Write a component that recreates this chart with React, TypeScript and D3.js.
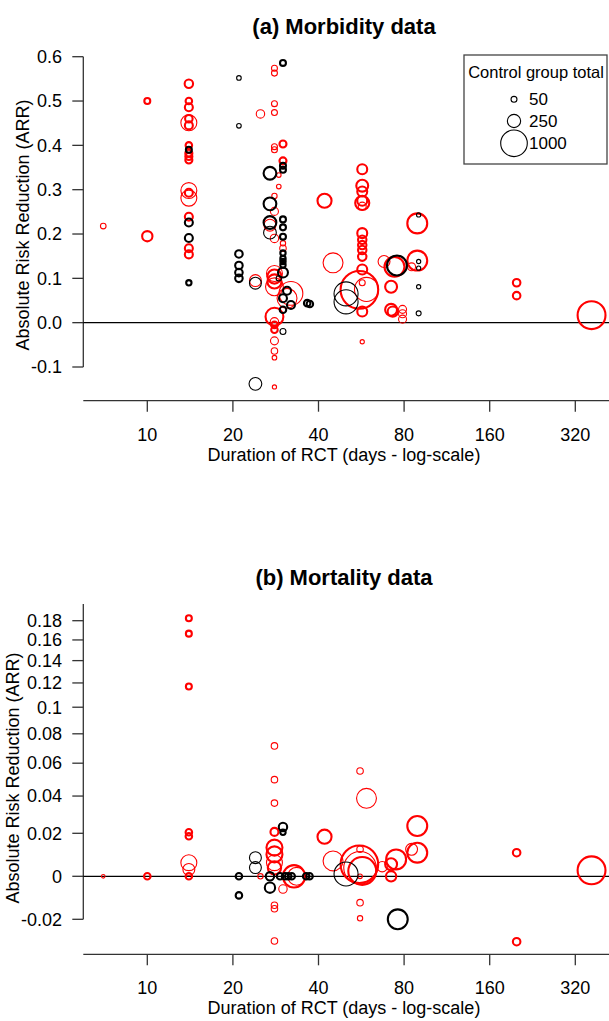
import React from "react";
import * as d3 from "d3";

// [days, ARR, control group total, thick stroke (1) / thin (0)]
type Pt = [number, number, number, number];

const xTicks = [10, 20, 40, 80, 160, 320];
const yTicksTop = [-0.1, 0, 0.1, 0.2, 0.3, 0.4, 0.5, 0.6];
const yTickLabelsTop = ["-0.1", "0.0", "0.1", "0.2", "0.3", "0.4", "0.5", "0.6"];
const yTicksBottom = [-0.02, 0, 0.02, 0.04, 0.06, 0.08, 0.1, 0.12, 0.14, 0.16, 0.18];
const yTickLabelsBottom = ["-0.02", "0", "0.02", "0.04", "0.06", "0.08", "0.1", "0.12", "0.14", "0.16", "0.18"];
const legendSizes = [50, 250, 1000];

const morbidityRed: Pt[] = [
  [7, 0.218, 45, 0],
  [10, 0.5, 50, 1],
  [10, 0.195, 150, 1],
  [14, 0.539, 100, 1],
  [14, 0.5, 60, 1],
  [14, 0.486, 90, 1],
  [14, 0.46, 80, 1],
  [14, 0.451, 360, 0],
  [14, 0.445, 90, 1],
  [14, 0.4, 60, 1],
  [14, 0.382, 70, 1],
  [14, 0.375, 70, 1],
  [14, 0.367, 70, 1],
  [14, 0.298, 360, 0],
  [14, 0.293, 90, 1],
  [14, 0.281, 360, 0],
  [14, 0.239, 90, 1],
  [14, 0.168, 90, 1],
  [14, 0.154, 90, 1],
  [24, 0.095, 200, 0],
  [25, 0.471, 100, 0],
  [27, 0.22, 200, 0],
  [28, 0.574, 50, 0],
  [28, 0.563, 50, 0],
  [28, 0.494, 50, 0],
  [28, 0.474, 50, 0],
  [28, 0.397, 50, 0],
  [28, 0.39, 50, 0],
  [28, 0.286, 40, 0],
  [28, 0.251, 90, 0],
  [28, 0.19, 100, 0],
  [28, 0.111, 360, 0],
  [28, 0.104, 280, 1],
  [28, 0.093, 280, 1],
  [28, 0.081, 450, 0],
  [28, 0.0135, 450, 1],
  [28, 0.002, 100, 0],
  [28, -0.005, 60, 1],
  [28, -0.016, 60, 1],
  [28, -0.041, 90, 0],
  [28, -0.064, 60, 0],
  [28, -0.079, 30, 0],
  [28, -0.145, 25, 0],
  [29, 0.333, 30, 0],
  [29, 0.307, 30, 0],
  [30, 0.403, 70, 1],
  [30, 0.365, 70, 1],
  [30, 0.179, 40, 0],
  [30, 0.168, 60, 0],
  [31, 0.055, 560, 0],
  [32, 0.066, 800, 0],
  [42, 0.275, 280, 1],
  [45, 0.135, 560, 0],
  [55.7, 0.074, 2000, 1],
  [57, 0.346, 140, 1],
  [57, 0.309, 200, 1],
  [57, 0.296, 140, 1],
  [57, 0.275, 140, 1],
  [57, 0.27, 280, 1],
  [57, 0.263, 90, 0],
  [57, 0.202, 140, 1],
  [57, 0.187, 100, 1],
  [57, 0.175, 100, 1],
  [57, 0.164, 100, 1],
  [57, 0.149, 100, 1],
  [57, 0.12, 140, 1],
  [57, 0.09, 50, 0],
  [57, 0.025, 140, 1],
  [57, -0.043, 25, 0],
  [59, 0.075, 816, 0],
  [68, 0.138, 200, 0],
  [72, 0.081, 200, 1],
  [72, 0.029, 200, 1],
  [73, 0.025, 150, 1],
  [74, 0.126, 560, 1],
  [79, 0.03, 90, 0],
  [79, 0.02, 90, 0],
  [79, 0.008, 90, 0],
  [85, 0.126, 90, 0],
  [89, 0.224, 560, 1],
  [89, 0.14, 560, 1],
  [199, 0.09, 80, 1],
  [199, 0.061, 80, 1],
  [365, 0.017, 1100, 1],
];

const morbidityBlack: Pt[] = [
  [14, 0.39, 50, 1],
  [14, 0.226, 90, 1],
  [14, 0.191, 90, 1],
  [14, 0.09, 40, 1],
  [21, 0.552, 30, 0],
  [21, 0.444, 30, 0],
  [21, 0.155, 80, 1],
  [21, 0.129, 80, 1],
  [21, 0.113, 80, 1],
  [21, 0.1, 80, 1],
  [24, 0.089, 200, 0],
  [24, -0.138, 230, 0],
  [27, 0.337, 230, 1],
  [27, 0.268, 230, 1],
  [27, 0.226, 230, 1],
  [27, 0.203, 230, 0],
  [29, 0.1, 40, 0],
  [30, 0.586, 50, 1],
  [30, 0.354, 50, 1],
  [30, 0.345, 50, 1],
  [30, 0.233, 50, 1],
  [30, 0.215, 50, 1],
  [30, 0.194, 50, 1],
  [30, 0.157, 40, 1],
  [30, 0.145, 40, 1],
  [30, 0.138, 40, 1],
  [30, 0.13, 40, 1],
  [30, 0.113, 140, 1],
  [30, 0.055, 90, 1],
  [30, 0.029, 60, 1],
  [30, -0.02, 50, 0],
  [31, 0.072, 90, 1],
  [32, 0.04, 90, 1],
  [36.5, 0.044, 60, 1],
  [37.3, 0.042, 60, 1],
  [50, 0.065, 816, 0],
  [50, 0.047, 816, 0],
  [75.5, 0.129, 560, 1],
  [90, 0.243, 25, 0],
  [90, 0.138, 25, 0],
  [90, 0.123, 25, 0],
  [90, 0.081, 25, 0],
  [90, 0.021, 35, 0],
];

const mortalityRed: Pt[] = [
  [7, 0, 18, 0],
  [10, 0, 60, 1],
  [14, 0.1826, 50, 1],
  [14, 0.1664, 50, 1],
  [14, 0.117, 50, 1],
  [14, 0.0205, 60, 1],
  [14, 0.0185, 60, 1],
  [14, 0.006, 360, 0],
  [14, 0.003, 200, 0],
  [14, 0, 60, 1],
  [25, 0, 40, 0],
  [28, 0.0715, 60, 0],
  [28, 0.0497, 60, 0],
  [28, 0.036, 60, 0],
  [28, 0.0207, 90, 1],
  [28, 0.013, 360, 1],
  [28, 0.0098, 360, 1],
  [28, 0.006, 360, 0],
  [28, 0.0037, 250, 1],
  [28, -0.0131, 60, 0],
  [28, -0.0148, 60, 0],
  [28, -0.0313, 60, 0],
  [30, -0.0056, 100, 0],
  [32.8, 0, 700, 1],
  [33.5, 0, 450, 0],
  [42, 0.0183, 280, 1],
  [45, 0.0068, 560, 0],
  [55.7, 0.0053, 2000, 1],
  [56, 0.0037, 1500, 0],
  [57, 0.0023, 1100, 1],
  [56, 0.0122, 60, 0],
  [56, 0, 30, 0],
  [56, 0.055, 60, 0],
  [59, 0.0387, 560, 0],
  [56, -0.0119, 60, 0],
  [56, -0.0195, 40, 0],
  [67, 0.0042, 150, 0],
  [72, 0.0053, 200, 1],
  [72, 0, 150, 1],
  [75, 0.0075, 560, 1],
  [85, 0.0122, 200, 0],
  [89, 0.0237, 560, 1],
  [89, 0.0106, 560, 1],
  [199, 0.0106, 80, 1],
  [199, -0.0317, 80, 1],
  [365, 0.0026, 1100, 1],
];

const mortalityBlack: Pt[] = [
  [21, 0, 60, 1],
  [21, -0.0085, 60, 1],
  [24, 0.0083, 200, 0],
  [24, 0.0038, 200, 0],
  [27, 0, 100, 1],
  [27, -0.005, 150, 1],
  [30, 0.0232, 100, 1],
  [30, 0.0205, 40, 1],
  [29.3, 0, 60, 1],
  [30.5, 0, 60, 1],
  [31.3, 0, 60, 1],
  [32.2, 0, 60, 1],
  [36.2, 0, 60, 1],
  [37.2, 0, 60, 1],
  [50, 0.001, 816, 0],
  [76, -0.02, 560, 1],
];

const FONT = "Liberation Sans, Arial, Helvetica, sans-serif";
const AXIS_COLOR = "#333";
const RED = "#ff0000";
const BLACK = "#000000";

const xScale = d3.scaleLog().domain([10, 320]).range([147.3, 575.3]);
const rScale = d3.scaleSqrt().domain([0, 1000]).range([0, 13.3]);

const W = 609;
const H = 1021;
const AXIS_LEFT = 83.3;

interface PanelProps {
  title: string;
  titleY: number;
  yScale: (v: number) => number;
  yTicks: number[];
  yLabels: string[];
  yAxisTop: number;
  yAxisBottom: number;
  xAxisY: number;
  yTitleX: number;
  yTitleY: number;
  red: Pt[];
  black: Pt[];
  legend?: boolean;
}

function Panel(p: PanelProps) {
  const circles = (data: Pt[], color: string, key: string) =>
    data.map((d, i) => (
      <circle
        key={key + i}
        cx={xScale(d[0])}
        cy={p.yScale(d[1])}
        r={rScale(d[2])}
        fill="none"
        stroke={color}
        strokeWidth={d[3] ? 2.1 : 1.1}
      />
    ));
  const y0 = p.yScale(0);
  return (
    <g>
      <text x={344} y={p.titleY} textAnchor="middle" fontFamily={FONT} fontWeight="bold" fontSize={22}>
        {p.title}
      </text>
      {/* y axis */}
      <line x1={AXIS_LEFT} x2={AXIS_LEFT} y1={p.yAxisTop} y2={p.yAxisBottom} stroke={AXIS_COLOR} strokeWidth={1.3} />
      {p.yTicks.map((t, i) => (
        <g key={"yt" + i}>
          <line x1={AXIS_LEFT - 11} x2={AXIS_LEFT} y1={p.yScale(t)} y2={p.yScale(t)} stroke={AXIS_COLOR} strokeWidth={1.3} />
          <text x={62} y={p.yScale(t)} dy="0.35em" textAnchor="end" fontFamily={FONT} fontSize={18}>
            {p.yLabels[i]}
          </text>
        </g>
      ))}
      <text
        transform={`translate(${p.yTitleX},${p.yTitleY}) rotate(-90)`}
        textAnchor="middle"
        fontFamily={FONT}
        fontSize={18}
      >
        Absolute Risk Reduction (ARR)
      </text>
      {/* x axis */}
      <line x1={AXIS_LEFT} x2={W} y1={p.xAxisY} y2={p.xAxisY} stroke={AXIS_COLOR} strokeWidth={1.3} />
      {xTicks.map((t) => (
        <g key={"xt" + t}>
          <line x1={xScale(t)} x2={xScale(t)} y1={p.xAxisY} y2={p.xAxisY + 11} stroke={AXIS_COLOR} strokeWidth={1.3} />
          <text x={xScale(t)} y={p.xAxisY + 40} textAnchor="middle" fontFamily={FONT} fontSize={18}>
            {t}
          </text>
        </g>
      ))}
      <text x={344} y={p.xAxisY + 60} textAnchor="middle" fontFamily={FONT} fontSize={18}>
        Duration of RCT (days - log-scale)
      </text>
      {/* zero line */}
      <line x1={AXIS_LEFT} x2={W} y1={y0} y2={y0} stroke={BLACK} strokeWidth={1.3} />
      {circles(p.red, RED, "r")}
      {circles(p.black, BLACK, "b")}
      {p.legend && (
        <g>
          <rect x={464} y={55} width={143} height={109} fill="white" stroke="#444" strokeWidth={1.3} />
          <text x={536} y={78} textAnchor="middle" fontFamily={FONT} fontSize={16.5}>
            Control group total
          </text>
          {legendSizes.map((s, i) => {
            const cy = [99.3, 121, 143.3][i];
            return (
              <g key={"lg" + s}>
                <circle cx={514} cy={cy} r={rScale(s)} fill="none" stroke={BLACK} strokeWidth={1.1} />
                <text x={529} y={cy} dy="0.35em" fontFamily={FONT} fontSize={17}>
                  {s}
                </text>
              </g>
            );
          })}
        </g>
      )}
    </g>
  );
}

export default function App() {
  const yTop = d3.scaleLinear().domain([-0.1, 0.6]).range([367, 56.7]);
  const yBottom = d3.scaleSymlog().constant(0.12).domain([-0.02, 0.18]).range([919.3, 620.7]);
  return (
    <svg
      width={W}
      height={H}
      style={{ position: "absolute", left: 0, top: 0, background: "white" }}
      xmlns="http://www.w3.org/2000/svg"
    >
      <rect x={0} y={0} width={W} height={H} fill="white" />
      <Panel
        title="(a) Morbidity data"
        titleY={34}
        yScale={yTop}
        yTicks={yTicksTop}
        yLabels={yTickLabelsTop}
        yAxisTop={yTop(0.6)}
        yAxisBottom={yTop(-0.1)}
        xAxisY={400.7}
        yTitleX={29}
        yTitleY={225}
        red={morbidityRed}
        black={morbidityBlack}
        legend
      />
      <Panel
        title="(b) Mortality data"
        titleY={585}
        yScale={yBottom}
        yTicks={yTicksBottom}
        yLabels={yTickLabelsBottom}
        yAxisTop={604}
        yAxisBottom={yBottom(-0.02)}
        xAxisY={954.3}
        yTitleX={19}
        yTitleY={778}
        red={mortalityRed}
        black={mortalityBlack}
      />
    </svg>
  );
}
